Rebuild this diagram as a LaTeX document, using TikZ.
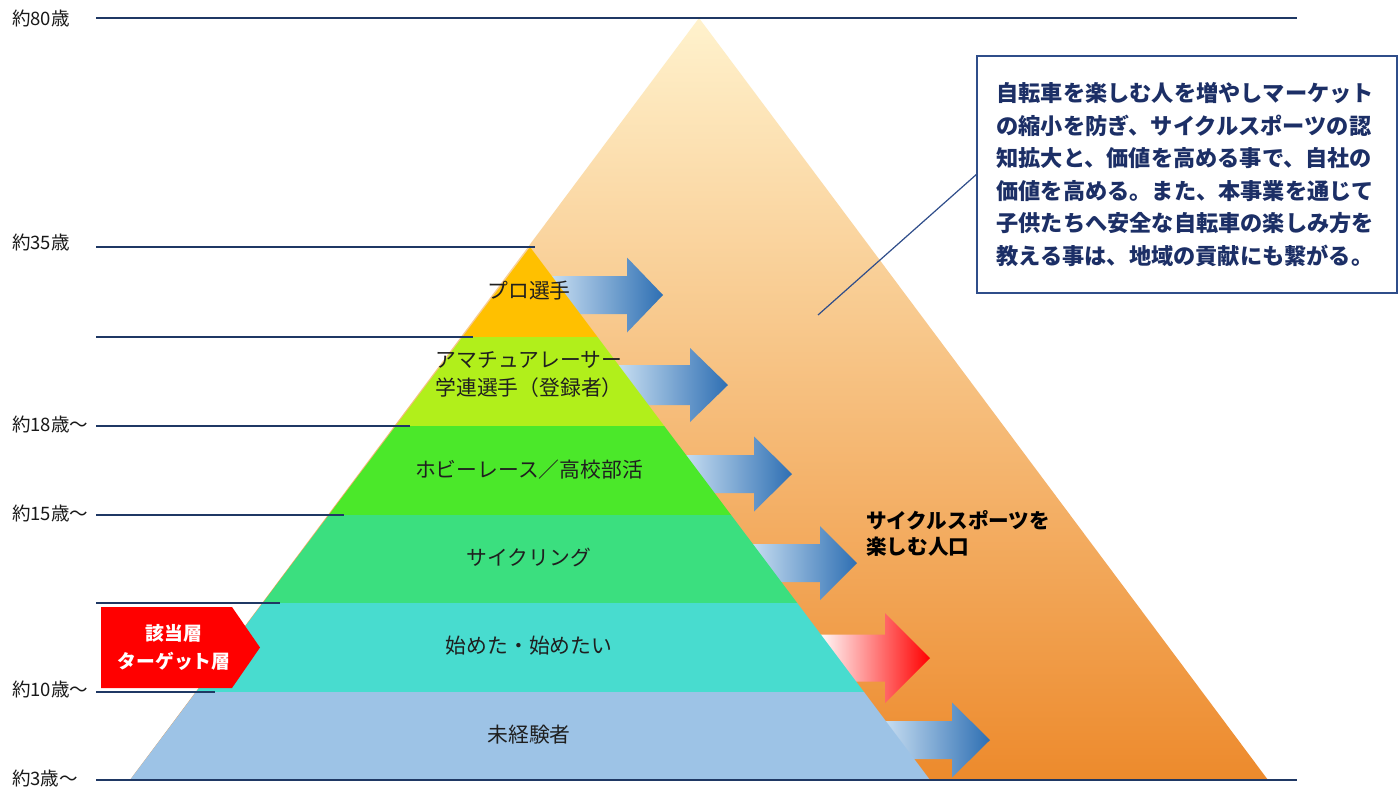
\documentclass[tikz,border=0pt]{standalone}
\usepackage{fontspec}
\setmainfont{Noto Sans CJK JP}
\definecolor{navy}{HTML}{1F3864}
\definecolor{boxnavy}{HTML}{2F4D8A}
\definecolor{txtnavy}{HTML}{1C2F66}
\definecolor{triTop}{HTML}{FFF2CD}
\definecolor{triMid}{HTML}{F8CD98}
\definecolor{triBot}{HTML}{ED8A2C}
\definecolor{cPro}{HTML}{FFC000}
\definecolor{cAma}{HTML}{B1EF1B}
\definecolor{cHob}{HTML}{4BE82A}
\definecolor{cCyc}{HTML}{3BDF7F}
\definecolor{cSta}{HTML}{48DCCF}
\definecolor{cUnt}{HTML}{9DC3E6}
\definecolor{arrL}{HTML}{C9DFF2}
\definecolor{arrR}{HTML}{2E6FB3}
\newcommand\barrow[7]{%
  \path[#1] (#3,#2-#6) -- (#4,#2-#6) -- (#4,#2-#7) -- (#5,#2) -- (#4,#2+#7)
    -- (#4,#2+#6) -- (#3,#2+#6) -- cycle;}
\begin{document}
\begin{tikzpicture}[x=1pt,y=-1pt,
  hline/.style={draw=navy,line width=1.2pt},
  agelab/.style={anchor=west,inner sep=0pt,font=\fontsize{18.5}{22}\selectfont,text=black!90},
  laytext/.style={inner sep=0pt,align=center,font=\fontsize{20.8}{28}\selectfont,text=black!88},
  bluearr/.style={left color=arrL,right color=arrR},
  redarr/.style={left color=white,right color=red},
]
\useasboundingbox (0,0) rectangle (1400,804);
\fill[white] (0,0) rectangle (1400,804);

% big background triangle
\shade[top color=triTop,middle color=triMid,bottom color=triBot]
  (699,18) -- (1268,780) -- (130,780) -- cycle;

% block arrows (behind pyramid)
\barrow{bluearr}{295}{550}{627}{663}{19}{37.5}
\barrow{bluearr}{385}{617}{690}{728}{20}{37}
\barrow{bluearr}{474}{683}{754}{792}{19}{37.5}
\barrow{bluearr}{563}{750}{820}{857}{19}{37}
\barrow{redarr}{658}{818}{885}{930}{23.5}{45}
\barrow{bluearr}{740}{883}{952}{990}{19}{37.5}

% pyramid layers
\fill[cPro] (530,247) -- (597.5,337) -- (462.5,337) -- cycle;
\fill[cAma] (462.5,337) -- (597.5,337) -- (664.3,426) -- (395.7,426) -- cycle;
\fill[cHob] (395.7,426) -- (664.3,426) -- (731.1,515) -- (328.9,515) -- cycle;
\fill[cCyc] (328.9,515) -- (731.1,515) -- (797.2,603) -- (262.8,603) -- cycle;
\fill[cSta] (262.8,603) -- (797.2,603) -- (864,692) -- (196,692) -- cycle;
\fill[cUnt] (196,692) -- (864,692) -- (930,780) -- (130,780) -- cycle;

% horizontal level lines
\draw[hline] (96,18) -- (1297,18);
\draw[hline] (96,247) -- (535,247);
\draw[hline] (96,337) -- (473,337);
\draw[hline] (96,426) -- (410,426);
\draw[hline] (96,515) -- (344,515);
\draw[hline] (96,603) -- (280,603);
\draw[hline] (96,692) -- (215,692);
\draw[hline] (96,780) -- (1297,780);

% age labels
\node[agelab] (a80) at (12,18) {約80歳};
\node[agelab] (a35) at (12,242) {約35歳};
\node[agelab] (a18) at (12,424) {約18歳～};
\node[agelab] (a15) at (12,513) {約15歳～};
\node[agelab] (a10) at (12,689) {約10歳～};
\node[agelab] (a3) at (12,778) {約3歳～};

% layer texts
\node[laytext] (t1) at (529,291) {プロ選手};
\node[laytext] (t2) at (529,374) {アマチュアレーサー\\学連選手（登録者）};
\node[laytext] (t3) at (529,470) {ホビーレース／高校部活};
\node[laytext] (t4) at (529,557) {サイクリング};
\node[laytext] (t5) at (529,646) {始めた・始めたい};
\node[laytext] (t6) at (529,735) {未経験者};

% side text
\node[anchor=west,inner sep=0pt,align=left,font=\fontsize{20.6}{26}\selectfont\bfseries,text=black]
  (pop) at (866,533) {サイクルスポーツを\\楽しむ人口};

% target label
\fill[red] (101,607) -- (232,607) -- (260,647.5) -- (232,688) -- (101,688) -- cycle;
\node[inner sep=0pt,align=center,font=\fontsize{18.8}{28}\selectfont\bfseries,text=white]
  (tgt) at (174,647) {該当層\\ターゲット層};

% callout
\node[draw=boxnavy,line width=1.3pt,fill=white,minimum width=420pt,minimum height=237pt,inner sep=0pt]
  (box) at (1187,174.5) {};
\node[anchor=west,inner sep=0pt,align=left,font=\fontsize{22.2}{32.6}\selectfont\bfseries,text=txtnavy]
  (boxtext) at ([xshift=20pt]box.west) {自転車を楽しむ人を増やしマーケット\\の縮小を防ぎ、サイクルスポーツの認\\知拡大と、価値を高める事で、自社の\\価値を高める。また、本事業を通じて\\子供たちへ安全な自転車の楽しみ方を\\教える事は、地域の貢献にも繋がる。};
\coordinate (cl) at (818,315);
\draw[draw=boxnavy,line width=1.2pt] (cl) -- (box.west);
\end{tikzpicture}
\end{document}
